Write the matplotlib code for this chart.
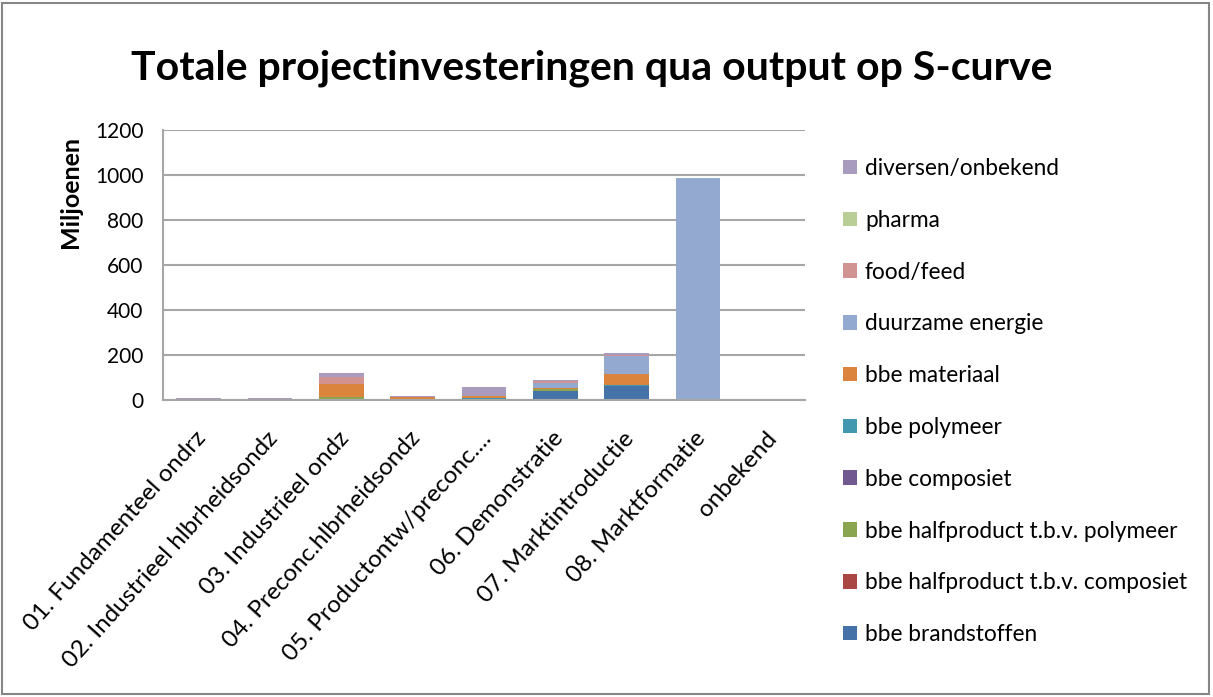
import matplotlib
matplotlib.use("Agg")
import matplotlib.pyplot as plt
import matplotlib.transforms as mtransforms
from matplotlib.patches import Rectangle
import numpy as np

plt.rcParams['font.family'] = ['Lato', 'DejaVu Sans']

categories = ["01. Fundamenteel ondrz", "02. Industrieel hlbrheidsondz", "03. Industrieel ondz",
              "04. Preconc.hlbrheidsondz", "05. Productontw/preconc....", "06. Demonstratie",
              "07. Marktintroductie", "08. Marktformatie", "onbekend"]

series_names = ["bbe brandstoffen", "bbe halfproduct t.b.v. composiet", "bbe halfproduct t.b.v. polymeer",
                "bbe composiet", "bbe polymeer", "bbe materiaal", "duurzame energie", "food/feed",
                "pharma", "diversen/onbekend"]
colors = ["#4572A7", "#AA4643", "#89A54E", "#71588F", "#4198AF", "#DB843D", "#93A9CF", "#D19392",
          "#B9CD96", "#A99BBD"]

bbe_brandstoffen = [0, 0, 0, 0, 3, 42, 64, 0, 0]
bbe_halfproduct_composiet = [0, 0, 0, 0, 0, 0, 0, 0, 0]
bbe_halfproduct_polymeer = [0, 0, 15, 0, 2, 5, 0, 0, 0]
bbe_composiet = [0, 0, 0, 0, 0, 0, 0, 0, 0]
bbe_polymeer = [0, 0, 0, 0, 5, 0, 4, 0, 0]
bbe_materiaal = [0, 0, 57, 12, 6, 5, 46, 0, 0]
duurzame_energie = [0, 0, 0, 0, 0, 25, 81, 985, 0]
food_feed = [0, 0, 30, 0, 0, 7, 5, 0, 0]
pharma = [0, 0, 0, 0, 0, 0, 0, 0, 0]
diversen_onbekend = [10, 8, 18, 4, 42, 5, 7, 0, 0]

data = [bbe_brandstoffen, bbe_halfproduct_composiet, bbe_halfproduct_polymeer, bbe_composiet,
        bbe_polymeer, bbe_materiaal, duurzame_energie, food_feed, pharma, diversen_onbekend]

W, H = 1213, 697
fig = plt.figure(figsize=(W/100, H/100), dpi=100)
ax = fig.add_axes([163/W, 1 - 400/H, (805-163)/W, (400-130)/H])

x = np.arange(len(categories))
bottom = np.zeros(len(categories))
handles = []
for name, vals, col in zip(series_names, data, colors):
    vals = np.array(vals, dtype=float)
    b = ax.bar(x, vals, 0.63, bottom=bottom, color=col, label=name, edgecolor='none')
    handles.append(b)
    bottom += vals

ax.set_xlim(-0.5, len(categories) - 0.5)
ax.set_ylim(0, 1200)
ax.set_yticks(np.arange(0, 1201, 200))
ax.yaxis.grid(True, color='#A6A6A6', linewidth=1.5)
ax.set_axisbelow(True)
for s in ['top', 'right']:
    ax.spines[s].set_visible(False)
ax.spines['left'].set_color('#A6A6A6')
ax.spines['bottom'].set_color('#A6A6A6')
ax.spines['left'].set_linewidth(1.5)
ax.spines['bottom'].set_linewidth(1.5)
ax.tick_params(axis='y', length=0, labelsize=15, colors='black', pad=14)
ax.tick_params(axis='x', length=0, labelsize=17.5, colors='black', pad=20)
ax.set_xticks(x)
ax.set_xticklabels(categories, rotation=48, ha='right', rotation_mode='anchor')
offset = mtransforms.ScaledTranslation(-4/100, 0, fig.dpi_scale_trans)
for lbl in ax.get_xticklabels():
    lbl.set_transform(lbl.get_transform() + offset)
ax.set_ylabel("Miljoenen", fontsize=18, fontweight='bold')
ax.yaxis.set_label_coords(82/W, 1 - 192/H, transform=fig.transFigure)

fig.suptitle("Totale projectinvesteringen qua output op S-curve", fontsize=29.5, fontweight='bold',
             x=592/W, y=1 - 68/H, va='center')

leg = fig.legend(handles[::-1], series_names[::-1], loc='upper left', bbox_to_anchor=(843/W, 1 - 158/H),
                 frameon=False, fontsize=16.3, labelspacing=1.36, borderaxespad=0, borderpad=0,
                 handlelength=0.61, handleheight=0.61, handletextpad=0.36)

fig.patches.append(Rectangle((0.002, 0.004), 0.995, 0.992, transform=fig.transFigure, fill=False,
                             edgecolor='#868686', linewidth=1.5))

fig.savefig("out.png", dpi=100)
